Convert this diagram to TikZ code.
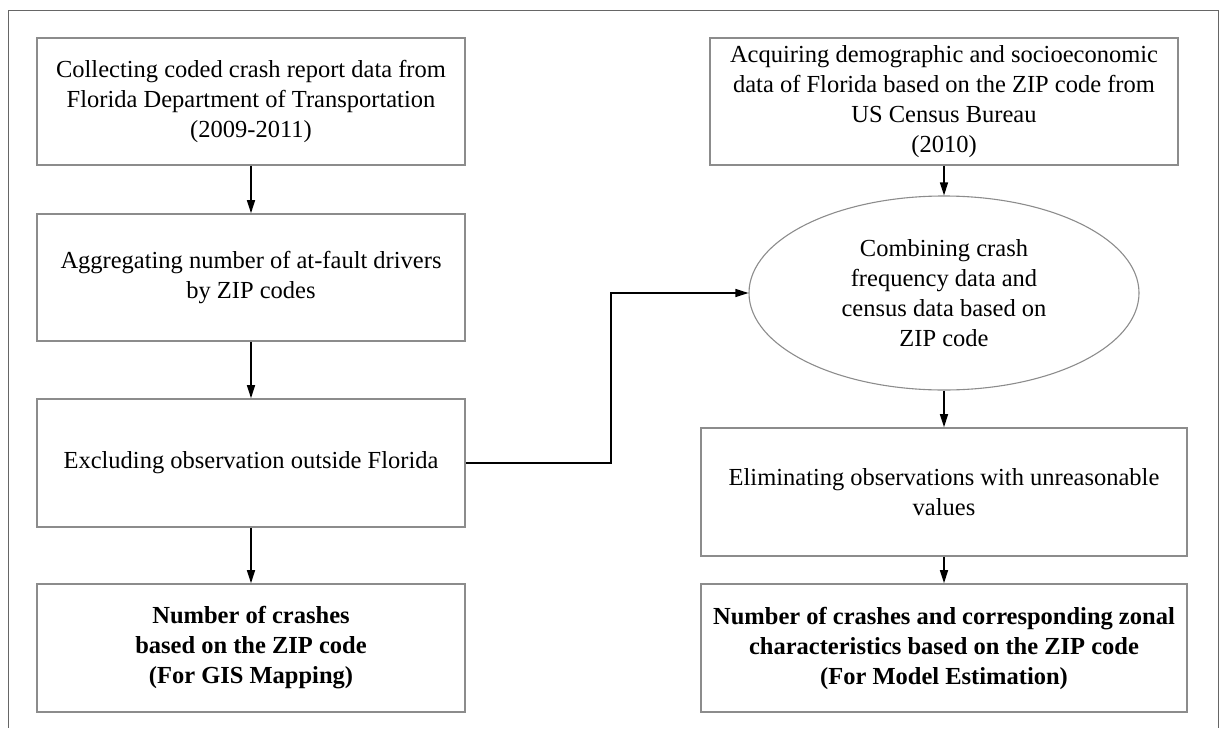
\documentclass[tikz,border=0pt]{standalone}
\usepackage{fontspec}
\setmainfont{Liberation Serif}
\usetikzlibrary{arrows.meta,shapes.geometric}
\begin{document}
\begin{tikzpicture}[x=1pt,y=-1pt,
  stepbox/.style={draw=black!45,line width=1.6pt,rectangle,inner sep=0pt,
    align=center,font=\fontsize{24.5}{30}\selectfont,text=black},
  ellbox/.style={draw=black!45,line width=1.1pt,ellipse,inner sep=0pt,
    minimum width=390pt,minimum height=194pt,
    align=center,font=\fontsize{24.5}{30}\selectfont,text=black},
  arr/.style={draw=black,line width=1.5pt,-{Triangle[length=13pt,width=8pt]}},
  frame/.style={draw=black!60,line width=1pt}]
\useasboundingbox (0,0) rectangle (1228,728);
\draw[frame] (8,10) -- (1218,10) -- (1218,728);
\draw[frame] (8,10) -- (8,728);

% left column
\node[stepbox,minimum width=428pt,minimum height=127pt] (b1) at (251,101.5)
  {Collecting coded crash report data from\\Florida Department of Transportation\\(2009-2011)};
\node[stepbox,minimum width=428pt,minimum height=127pt] (b2) at (251,277.5)
  {Aggregating number of at-fault drivers\\by ZIP codes};
\node[stepbox,minimum width=428pt,minimum height=128pt] (b3) at (251,463)
  {Excluding observation outside Florida};
\node[stepbox,minimum width=428pt,minimum height=128pt] (b4) at (251,648)
  {\bfseries Number of crashes\\\bfseries based on the ZIP code\\\bfseries (For GIS Mapping)};

% right column
\node[stepbox,minimum width=468pt,minimum height=127pt] (t1) at (944,101.5)
  {Acquiring demographic and socioeconomic\\data of Florida based on the ZIP code from\\US Census Bureau\\(2010)};
\node[ellbox] (el) at (944,293)
  {Combining crash\\frequency data and\\census data based on\\ZIP code};
\node[stepbox,minimum width=486pt,minimum height=128pt] (b5) at (944,492)
  {Eliminating observations with unreasonable\\values};
\node[stepbox,minimum width=486pt,minimum height=128pt] (b6) at (944,648)
  {\bfseries Number of crashes and corresponding zonal\\\bfseries characteristics based on the ZIP code\\\bfseries (For Model Estimation)};

% connectors
\draw[arr] (b1.south) -- (b2.north);
\draw[arr] (b2.south) -- (b3.north);
\draw[arr] (b3.south) -- (b4.north);
\coordinate (turn) at (611,463);
\draw[arr] (b3.east) -- (turn) |- (el.west);
\draw[arr] (t1.south) -- (el.north);
\draw[arr] (el.south) -- (b5.north);
\draw[arr] (b5.south) -- (b6.north);
\end{tikzpicture}
\end{document}
